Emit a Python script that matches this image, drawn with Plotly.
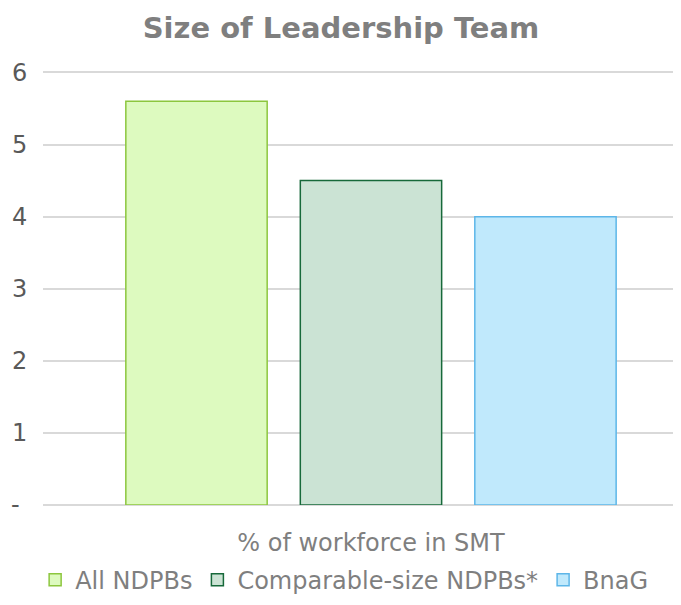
import plotly.graph_objects as go

categories = ["% of workforce in SMT"]
series_names = ["All NDPBs", "Comparable-size NDPBs*", "BnaG"]
series_values = [[5.6], [4.5], [4.0]]
fill_colors = ["#ddfabf", "#cbe3d4", "#c0e9fc"]
line_colors = ["#8cc63e", "#17693a", "#5db6e8"]
y_tick_vals = [0, 1, 2, 3, 4, 5, 6]
y_tick_text = ["-\u00a0", "1", "2", "3", "4", "5", "6"]

fig = go.Figure()
for name, vals, fc, lc in zip(series_names, series_values, fill_colors, line_colors):
    fig.add_trace(go.Bar(
        x=categories, y=vals, name=name,
        marker=dict(color=fc, line=dict(color=lc, width=1.5)),
    ))

font_family = "DejaVu Sans, Verdana, sans-serif"
W, H = 673, 597
fig.update_layout(
    width=W, height=H,
    paper_bgcolor="white", plot_bgcolor="white",
    margin=dict(l=35, r=0, t=63, b=100, autoexpand=False),
    barmode="group", bargap=0.202, bargroupgap=0.19,
    title=dict(text="<b>Size of Leadership Team</b>", x=333 / W, xanchor="center",
               y=1 - 20 / H, yanchor="middle",
               font=dict(family=font_family, size=29, color="#7f7f7f")),
    font=dict(family=font_family, color="#7f7f7f"),
    showlegend=True,
    legend=dict(orientation="h", x=0.472, xanchor="center", y=-0.173, yanchor="middle",
                font=dict(size=24, color="#7f7f7f"), itemwidth=30),
    xaxis=dict(type="category", range=[-0.5, 0.4726], showgrid=False, showline=False,
               ticks="outside", ticklen=16, tickcolor="rgba(0,0,0,0)", automargin=False,
               tickfont=dict(size=24, color="#7f7f7f"), fixedrange=True),
    yaxis=dict(range=[0, 6.02], tickvals=y_tick_vals, ticktext=y_tick_text,
               showgrid=True, gridcolor="#d9d9d9", gridwidth=1.5,
               zeroline=True, zerolinecolor="#d9d9d9", zerolinewidth=1.5, automargin=False,
               showline=False, ticks="outside", ticklen=10, tickcolor="rgba(0,0,0,0)",
               tickfont=dict(size=24, color="#595959")),
)

fig.write_html("out.html")
